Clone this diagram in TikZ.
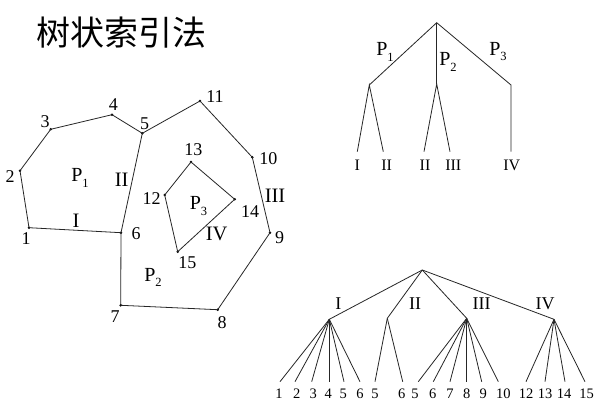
\documentclass[tikz,border=0pt]{standalone}
\usepackage{fontspec}
\setmainfont{Liberation Serif}
\newfontfamily\cjk{Noto Sans CJK SC}
\newcommand{\Psub}[1]{P\raisebox{-0.6ex}{\fontsize{12.5}{12.5}\selectfont #1}}
\begin{document}
\begin{tikzpicture}[x=1pt,y=-1pt,
  edge/.style={line width=0.8pt, draw=black!85},
  vtx/.style={circle, fill=black, inner sep=0pt, minimum size=2.8pt},
  pt/.style={inner sep=0pt, minimum size=0pt},
  lbl/.style={inner sep=0pt, font=\fontsize{18}{18}\selectfont},
  plbl/.style={inner sep=0pt, font=\fontsize{20}{20}\selectfont},
  rlbl/.style={inner sep=0pt, font=\fontsize{20.5}{20.5}\selectfont},
  rmid/.style={inner sep=0pt, font=\fontsize{18}{18}\selectfont},
  rsmall/.style={inner sep=0pt, font=\fontsize{16}{16}\selectfont},
  small/.style={inner sep=0pt, font=\fontsize{14.5}{14.5}\selectfont},
  title/.style={inner sep=0pt, font=\cjk\fontsize{34}{34}\selectfont}]
\useasboundingbox (0,0) rectangle (600,404);
\fill[white] (0,0) rectangle (600,404);

% title
\node[title] (ttl) at (121,33) {树状索引法};

% ---------- left polygons ----------
\node[vtx] (v1) at (29,227.7) {};
\node[vtx] (v2) at (20,170.7) {};
\node[vtx] (v3) at (50.7,129.3) {};
\node[vtx] (v4) at (112,114.7) {};
\node[vtx] (v5) at (142.3,133.3) {};
\node[vtx] (v6) at (121,232.7) {};
\node[vtx] (v7) at (120.7,305.3) {};
\node[vtx] (v8) at (217.7,309.7) {};
\node[vtx] (v9) at (270,232.7) {};
\node[vtx] (v10) at (252.3,157.3) {};
\node[vtx] (v11) at (200,101) {};
\node[vtx] (v12) at (164.7,195) {};
\node[vtx] (v13) at (191,162) {};
\node[vtx] (v14) at (234.7,199.3) {};
\node[vtx] (v15) at (177.7,251.7) {};

\draw[edge] (v1.center) -- (v2.center) -- (v3.center) -- (v4.center) -- (v5.center) -- (v6.center) -- (v1.center);
\draw[edge] (v5.center) -- (v11.center) -- (v10.center) -- (v9.center) -- (v8.center) -- (v7.center) -- (v6.center);
\draw[edge] (v12.center) -- (v13.center) -- (v14.center) -- (v15.center) -- (v12.center);

\node[lbl] (n1) at (26,238.5) {1};
\node[lbl] (n2) at (10,176.7) {2};
\node[lbl] (n3) at (45,121.7) {3};
\node[lbl] (n4) at (113.3,104.5) {4};
\node[lbl] (n5) at (144.5,123.3) {5};
\node[lbl] (n6) at (136,233.3) {6};
\node[lbl] (n7) at (115,317) {7};
\node[lbl] (n8) at (222,323) {8};
\node[lbl] (n9) at (279.5,237.7) {9};
\node[lbl] (n10) at (268.3,158.3) {10};
\node[lbl] (n11) at (215,96.7) {11};
\node[lbl] (n12) at (151.7,198.3) {12};
\node[lbl] (n13) at (193.3,150) {13};
\node[lbl] (n14) at (250,211.7) {14};
\node[lbl] (n15) at (187.3,262.7) {15};

\node[plbl] (p1) at (80,178) {\Psub{1}};
\node[plbl] (p2) at (153,277.5) {\Psub{2}};
\node[plbl] (p3) at (198.5,206) {\Psub{3}};
\node[rlbl] (r1) at (76,220.7) {I};
\node[rlbl] (r2) at (121.7,179.3) {II};
\node[rlbl] (r3) at (275,196) {III};
\node[rlbl] (r4) at (216.7,234) {IV};

% ---------- top-right tree ----------
\node[pt] (tr) at (436.7,22.7) {};
\node[pt] (ta) at (369.3,85) {};
\node[pt] (tb) at (436.7,84) {};
\node[pt] (tc) at (511,85) {};
\node[pt] (ta1) at (357.3,151.7) {};
\node[pt] (ta2) at (383.3,151.7) {};
\node[pt] (tb1) at (424,151.7) {};
\node[pt] (tb2) at (450,151.7) {};
\node[pt] (tc1) at (511,151.7) {};
\draw[edge] (ta.center) -- (tr.center) -- (tc.center) -- (tc1.center);
\draw[edge] (tr.center) -- (tb.center);
\draw[edge] (ta1.center) -- (ta.center) -- (ta2.center);
\draw[edge] (tb1.center) -- (tb.center) -- (tb2.center);
\node[plbl] (tp1) at (385,51.7) {\Psub{1}};
\node[plbl] (tp2) at (448,62) {\Psub{2}};
\node[plbl] (tp3) at (498,51.7) {\Psub{3}};
\node[rsmall] (tl1) at (357.3,165) {I};
\node[rsmall] (tl2) at (386.7,165) {II};
\node[rsmall] (tl3) at (425,165) {II};
\node[rsmall] (tl4) at (453.3,165) {III};
\node[rsmall] (tl5) at (511.7,165) {IV};

% ---------- bottom tree ----------
\node[pt] (br) at (422.3,270) {};
\node[pt] (bI) at (329.3,319.3) {};
\node[pt] (bII) at (387.3,318.3) {};
\node[pt] (bIII) at (466.7,318.3) {};
\node[pt] (bIV) at (554,319.3) {};
\draw[edge] (br.center) -- (bI.center);
\draw[edge] (br.center) -- (bII.center);
\draw[edge] (br.center) -- (bIII.center);
\draw[edge] (br.center) -- (bIV.center);
\node[rmid] (bl1) at (338.3,303.3) {I};
\node[rmid] (bl2) at (415,303.3) {II};
\node[rmid] (bl3) at (481.7,303.3) {III};
\node[rmid] (bl4) at (545,303.3) {IV};

\foreach \nm/\xx/\lx/\lab/\pn in {a1/280/279/1/bI, a2/295/296.7/2/bI, a3/311.7/313.3/3/bI, a4/329.3/328.3/4/bI, a5/344/343.3/5/bI, a6/360/360/6/bI,
  b1/375/375/5/bII, b2/402.7/401.7/6/bII,
  c1/418.3/415/5/bIII, c2/433.3/432.7/6/bIII, c3/450/450/7/bIII, c4/466.7/466.7/8/bIII, c5/481.7/483.3/9/bIII, c6/498.3/503.3/10/bIII,
  d1/526/526/12/bIV, d2/545/545/13/bIV, d3/565/564/14/bIV, d4/585/586.7/15/bIV} {
  \node[pt] (leaf\nm) at (\xx,381.7) {};
  \node[small] (txt\nm) at (\lx,393.5) {\lab};
  \draw[edge] (\pn.center) -- (leaf\nm.center);
}
\end{tikzpicture}
\end{document}
